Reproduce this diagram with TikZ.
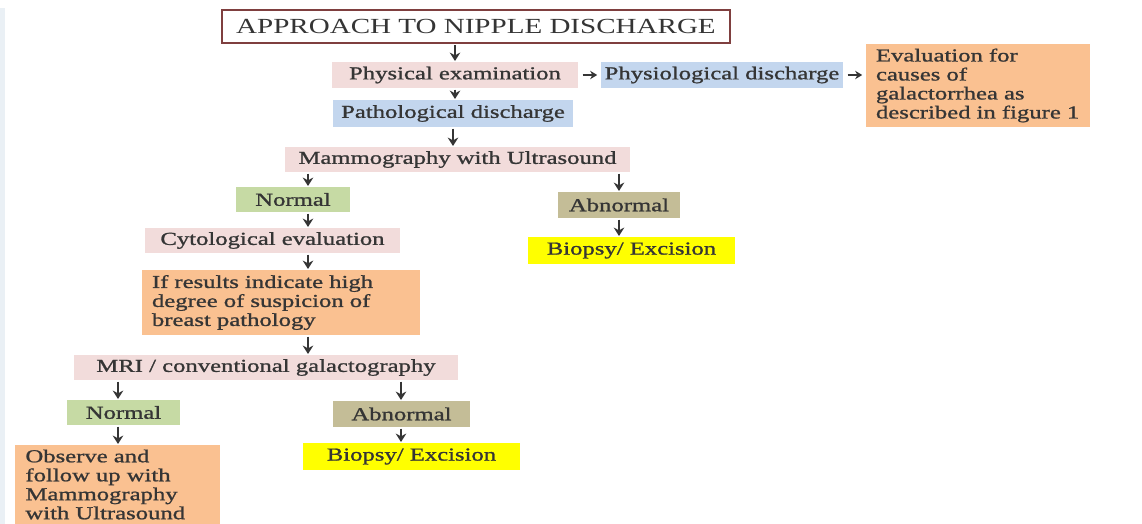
\documentclass[tikz,border=0pt]{standalone}
\usepackage{fontspec}
\setmainfont[FakeStretch=1.35]{Liberation Serif}
\newfontfamily\bodyfont[FakeStretch=1.35, FakeBold=1.1]{Liberation Serif}
\usepackage{tikz}
\usetikzlibrary{arrows.meta}
\definecolor{Pink}  {HTML}{F2DCDB}
\definecolor{Sky}   {HTML}{C3D6EE}
\definecolor{Leaf}  {HTML}{C6DAA4}
\definecolor{Khaki} {HTML}{C4BD97}
\definecolor{Peach} {HTML}{FAC191}
\definecolor{Lemon} {HTML}{FFFF00}
\definecolor{Ink}   {HTML}{353535}
\definecolor{Maroon}{HTML}{7F3F3F}
\definecolor{Edge}  {HTML}{EAF0F5}

\begin{document}
\begin{tikzpicture}[x=0.025cm, y=-0.025cm,
    box/.style={inner sep=0pt, text=Ink, font=\bodyfont\fontsize{13}{13.5}\selectfont},
    note/.style={box, align=left},
    arr/.style={-{Stealth[length=6pt, width=7.5pt]}, draw=Ink, line width=1.5pt,
                shorten <=1pt, shorten >=0.5pt},
    side/.style={arr, -{Stealth[length=5pt, width=6pt]}, line width=1.2pt,
                 shorten <=3pt, shorten >=2.5pt}]
  \useasboundingbox (0,0) rectangle (1142,524);
  % ── faint page edge ─────────────────────────────────────────────────────
  \fill[Edge] (0,8) rectangle (5,524);
  % ── title ───────────────────────────────────────────────────────────────
  \node[box, draw=Maroon, line width=1.5pt, fill=white, minimum width=12.7cm,
        minimum height=0.825cm, font=\rmfamily\fontsize{15.3}{17}\selectfont]
    (title) at (476,26.5) {APPROACH TO NIPPLE DISCHARGE};
  % ── first steps ─────────────────────────────────────────────────────────
  \node[box, fill=Pink, minimum width=6.15cm, minimum height=0.65cm]
    (phys) at (455,75) {Physical examination};
  \node[box, fill=Sky, minimum width=6.05cm, minimum height=0.65cm]
    (physio) at (722,75) {Physiological discharge};
  \node[note, fill=Peach, minimum width=5.6cm, minimum height=2.075cm, text width=5.1cm]
    (eval) at (978,85.5) {Evaluation for\\ causes of\\ galactorrhea as\\ described in figure 1};
  \node[box, fill=Sky, minimum width=6.0cm, minimum height=0.675cm]
    (patho) at (453,113.5) {Pathological discharge};
  \node[box, fill=Pink, minimum width=8.625cm, minimum height=0.625cm]
    (mammo) at (457.5,159.5) {Mammography with Ultrasound};
  % ── mammography branches ────────────────────────────────────────────────
  \node[box, fill=Leaf, minimum width=2.85cm, minimum height=0.625cm]
    (norm1) at (293,199.5) {Normal};
  \node[box, fill=Khaki, minimum width=3.05cm, minimum height=0.65cm]
    (abn1) at (619,205) {Abnormal};
  \node[box, fill=Lemon, minimum width=5.175cm, minimum height=0.675cm]
    (biop1) at (631.5,250.5) {Biopsy/ Excision};
  \node[box, fill=Pink, minimum width=6.375cm, minimum height=0.625cm]
    (cyto) at (272.5,240.5) {Cytological evaluation};
  \node[note, fill=Peach, minimum width=6.95cm, minimum height=1.625cm, text width=6.45cm]
    (ifres) at (281,302.5) {If results indicate high\\ degree of suspicion of\\ breast pathology};
  \node[box, fill=Pink, minimum width=9.6cm, minimum height=0.625cm]
    (mri) at (266,367.5) {MRI / conventional galactography};
  % ── MRI branches ────────────────────────────────────────────────────────
  \node[box, fill=Leaf, minimum width=2.8cm, minimum height=0.625cm]
    (norm2) at (123.5,412.5) {Normal};
  \node[note, fill=Peach, minimum width=5.125cm, minimum height=1.975cm, text width=4.6cm]
    (obs) at (117.5,484.5) {Observe and\\ follow up with\\ Mammography\\ with Ultrasound};
  \node[box, fill=Khaki, minimum width=3.425cm, minimum height=0.65cm]
    (abn2) at (401.5,414) {Abnormal};
  \node[box, fill=Lemon, minimum width=5.425cm, minimum height=0.675cm]
    (biop2) at (411.5,456.5) {Biopsy/ Excision};
  % ── arrow lanes ─────────────────────────────────────────────────────────
  \coordinate (lane1) at (118,0);
  \coordinate (lane2) at (308,0);
  \coordinate (lane3) at (401,0);
  \coordinate (lane4) at (619,0);
  % ── arrows ──────────────────────────────────────────────────────────────
  \draw[arr] (title.south -| phys.north) -- (phys.north);
  \draw[side] (phys.east) -- (physio.west);
  \draw[side] (physio.east) -- (eval.west |- physio.east);
  \draw[arr] (phys.south) -- (patho.north -| phys.south);
  \draw[arr] (patho.south) -- (mammo.north -| patho.south);
  \draw[arr] (mammo.south -| lane2) -- (norm1.north -| lane2);
  \draw[arr] (mammo.south -| lane4) -- (abn1.north -| lane4);
  \draw[arr] (abn1.south -| lane4) -- (biop1.north -| lane4);
  \draw[arr] (norm1.south -| lane2) -- (cyto.north -| lane2);
  \draw[arr] (cyto.south -| lane2) -- (ifres.north -| lane2);
  \draw[arr] (ifres.south -| lane2) -- (mri.north -| lane2);
  \draw[arr] (mri.south -| lane1) -- (norm2.north -| lane1);
  \draw[arr] (norm2.south -| lane1) -- (obs.north -| lane1);
  \draw[arr] (mri.south -| lane3) -- (abn2.north -| lane3);
  \draw[arr] (abn2.south -| lane3) -- (biop2.north -| lane3);
\end{tikzpicture}
\end{document}
